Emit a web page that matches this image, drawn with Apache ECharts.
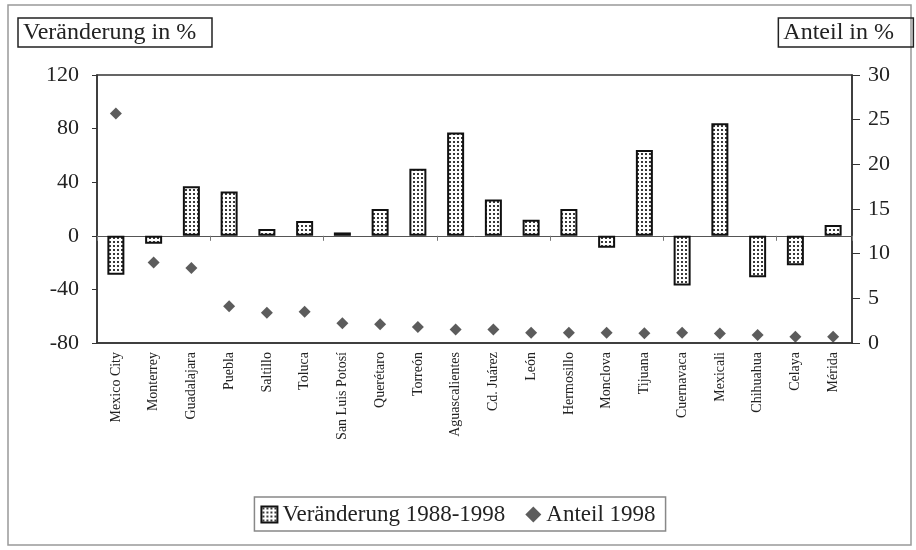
<!DOCTYPE html>
<html><head><meta charset="utf-8">
<script src="https://cdn.jsdelivr.net/npm/echarts@6/dist/echarts.min.js"></script>
<style>html,body{margin:0;padding:0;background:#fff}#c{width:916px;height:550px}</style>
</head><body><div id="c"></div>
<script>
const categories = ['Mexico City','Monterrey','Guadalajara','Puebla','Saltillo','Toluca','San Luis Potosí','Querétaro','Torreón','Aguascalientes','Cd. Juárez','León','Hermosillo','Monclova','Tijuana','Cuernavaca','Mexicali','Chihuahua','Celaya','Mérida'];
const veraenderung = [-29, -6, 37, 33, 5, 11, 2.5, 20, 50, 77, 27, 12, 20, -9, 64, -37, 84, -31, -22, 8];
const anteil = [25.7, 9.0, 8.4, 4.1, 3.4, 3.5, 2.2, 2.1, 1.8, 1.5, 1.5, 1.15, 1.15, 1.15, 1.1, 1.15, 1.05, 0.9, 0.7, 0.7];
const leftTicks = {min: -80, max: 120, interval: 40};
const rightTicks = {min: 0, max: 30, interval: 5};

const pc = document.createElement('canvas');
pc.width = 4; pc.height = 4;
const px = pc.getContext('2d');
px.fillStyle = '#fff'; px.fillRect(0,0,4,4);
px.fillStyle = '#3a3a3a'; px.fillRect(1,1,2,2);

const font = 'Liberation Serif';
const chart = echarts.init(document.getElementById('c'), null, {renderer: 'canvas'});
chart.setOption({
  backgroundColor: '#fff',
  animation: false,
  textStyle: {fontFamily: font, color: '#222'},
  graphic: [{type: 'rect', shape: {x: 8, y: 5, width: 903, height: 540}, style: {fill: 'none', stroke: '#999', lineWidth: 1.5}, silent: true}],
  title: [
    {text: 'Veränderung in %', left: 18, top: 18, padding: [3, 16, 2, 5], borderColor: '#222', borderWidth: 1.5,
     textStyle: {fontFamily: font, fontSize: 24, fontWeight: 'normal', color: '#222'}},
    {text: 'Anteil in %', right: 2, top: 18, padding: [3, 20, 2, 5], borderColor: '#222', borderWidth: 1.5,
     textStyle: {fontFamily: font, fontSize: 24, fontWeight: 'normal', color: '#222'}}
  ],
  legend: {
    bottom: 19, left: 'center', padding: [6, 10, 5, 6], borderColor: '#888', borderWidth: 1.5, itemGap: 20, itemWidth: 16, itemHeight: 16,
    textStyle: {fontFamily: font, fontSize: 23, color: '#222'},
    data: [{name: 'Veränderung 1988-1998', icon: 'rect'}, {name: 'Anteil 1998', icon: 'diamond'}]
  },
  grid: {left: 97, right: 64, top: 75, bottom: 207, show: true, borderColor: '#333', borderWidth: 1.5},
  xAxis: [
    {type: 'category', data: categories, position: 'bottom',
     axisLine: {onZero: false, lineStyle: {color: '#333', width: 1.5}}, axisTick: {show: false},
     axisLabel: {rotate: 90, margin: 9, fontFamily: font, fontSize: 14, color: '#222', interval: 0}},
    {type: 'category', data: categories, position: 'bottom',
     axisLine: {onZero: true, onZeroAxisIndex: 0, lineStyle: {color: '#555', width: 1}},
     axisTick: {show: true, length: 5, lineStyle: {color: '#777'}},
     axisLabel: {show: false}}
  ],
  yAxis: [
    {type: 'value', min: leftTicks.min, max: leftTicks.max, interval: leftTicks.interval, position: 'left',
     axisLine: {show: true, lineStyle: {color: '#333', width: 1.5}}, axisTick: {show: true, length: 5, lineStyle: {color: '#333'}},
     splitLine: {show: false}, axisLabel: {margin: 18, fontFamily: font, fontSize: 22, color: '#222'}},
    {type: 'value', min: rightTicks.min, max: rightTicks.max, interval: rightTicks.interval, position: 'right',
     axisLine: {show: true, lineStyle: {color: '#333', width: 1.5}}, axisTick: {show: true, length: 8, lineStyle: {color: '#333'}},
     splitLine: {show: false}, axisLabel: {margin: 16, fontFamily: font, fontSize: 22, color: '#222'}}
  ],
  series: [
    {name: 'Veränderung 1988-1998', type: 'bar', xAxisIndex: 0, yAxisIndex: 0, data: veraenderung, barWidth: 17,
     itemStyle: {color: {image: pc, repeat: 'repeat'}, borderColor: '#111', borderWidth: 2}},
    {name: 'Anteil 1998', type: 'scatter', xAxisIndex: 0, yAxisIndex: 1, data: anteil, symbol: 'diamond', symbolSize: 12,
     itemStyle: {color: '#333'}}
  ]
});
</script></body></html>
